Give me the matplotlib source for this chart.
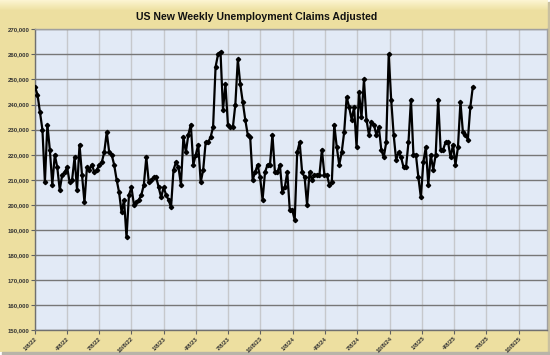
import numpy as np
import pandas as pd
import matplotlib
matplotlib.use("Agg")
import matplotlib.pyplot as plt
import matplotlib.dates as mdates
from matplotlib.patches import FancyBboxPatch
from matplotlib.ticker import FuncFormatter

# ---- data (thousands of claims, weekly from 1/8/22) ----
start_date = "2022-01-08"
claims_k = [
    247, 244, 237, 230, 209, 232, 222, 208, 220, 215,
    206, 212, 213, 215, 209, 210, 219, 206, 224, 212,
    201, 215, 214, 216, 213, 214, 216, 217, 221, 229,
    221, 220, 216, 210, 205, 197, 202, 187, 204, 207,
    200, 201, 202, 204, 208, 219, 209, 210, 211, 211,
    207, 203, 207, 204, 202, 199, 214, 217, 215, 208,
    227, 221, 228, 232, 216, 220, 224, 209, 214, 225,
    225, 227, 231, 255, 260, 261, 238, 248, 232, 231,
    231, 240, 258, 248, 241, 234, 228, 227, 210, 213,
    216, 211, 202, 213, 216, 216, 228, 213, 213, 216,
    205, 207, 213, 198, 198, 194, 221, 225, 213, 211,
    200, 213, 210, 212, 212, 212, 222, 212, 212, 208,
    209, 232, 223, 216, 221, 229, 243, 239, 234, 239,
    223, 245, 235, 250, 234, 228, 233, 232, 228, 231,
    222, 219, 225, 260, 242, 228, 218, 221, 219, 215,
    215, 225, 242, 220, 220, 211, 203, 217, 223, 208,
    220, 214, 220, 242, 222, 222, 225, 225, 219, 224,
    216, 223, 241, 229, 228, 226, 239, 247,
]
tick_dates = ["2022-01-08", "2022-04-08", "2022-07-08", "2022-10-08",
              "2023-01-08", "2023-04-08", "2023-07-08", "2023-10-08",
              "2024-01-08", "2024-04-08", "2024-07-08", "2024-10-08",
              "2025-01-08", "2025-04-08", "2025-07-08", "2025-10-08"]
tick_labels = ["1/8/22", "4/8/22", "7/8/22", "10/8/22",
               "1/8/23", "4/8/23", "7/8/23", "10/8/23",
               "1/8/24", "4/8/24", "7/8/24", "10/8/24",
               "1/8/25", "4/8/25", "7/8/25", "10/8/25"]
y_ticks = [150000, 160000, 170000, 180000, 190000, 200000,
           210000, 220000, 230000, 240000, 250000, 260000, 270000]
title = "US New Weekly Unemployment Claims Adjusted"
x_end = "2025-12-27"

dates = pd.date_range(start_date, periods=len(claims_k), freq="7D")
values = np.array(claims_k) * 1000

fig = plt.figure(figsize=(5.5, 3.55), dpi=100)
fig.patch.set_facecolor("white")

# background with light top band and beige body
bg = fig.add_axes([0, 0, 1, 1], zorder=-10)
bg.set_xlim(0, 550)
bg.set_ylim(355, 0)
bg.axis("off")
grad = np.ones((355, 1, 3))
top = np.array([0.99, 0.96, 0.82])
body = np.array([0.93, 0.878, 0.63])
for r in range(355):
    t = min(r / 10.0, 1.0)
    grad[r, 0] = top * (1 - t) + body * t
bg.imshow(grad, extent=[0, 548, 352, 0], aspect="auto", zorder=0)
# shadow on right / bottom
bg.add_patch(plt.Rectangle((548, 2), 2, 353, color="#c9c0a0", zorder=1))
bg.add_patch(plt.Rectangle((2, 352), 548, 3, color="#b8b4a8", zorder=1))

ax = fig.add_axes([35 / 550, 24.7 / 355, 512 / 550, 301 / 355])
ax.set_facecolor("#e2eaf6")
ax.plot(dates, values, color="black", lw=1.6, marker="D", ms=2.2,
        mec="black", mfc="black", zorder=3)

ax.set_ylim(150000, 270000)
ax.set_yticks(y_ticks)
ax.yaxis.set_major_formatter(FuncFormatter(lambda v, p: f"{int(v):,}"))
ax.set_xlim(pd.Timestamp(start_date), pd.Timestamp(x_end))
ax.set_xticks(pd.to_datetime(tick_dates))
ax.set_xticklabels(tick_labels, rotation=45, ha="right",
                   rotation_mode="anchor")

for lbl in ax.get_yticklabels():
    lbl.set_fontsize(4.3)
    lbl.set_fontweight("bold")
    lbl.set_color("#333333")
    lbl.set_family("Liberation Sans")
for lbl in ax.get_xticklabels():
    lbl.set_fontsize(4.3)
    lbl.set_fontweight("bold")
    lbl.set_color("#333333")
    lbl.set_family("Liberation Sans")

ax.tick_params(axis="y", length=3, width=0.8, color="#606060", pad=1)
ax.tick_params(axis="x", length=3, width=0.8, color="#606060", pad=1)

ax.grid(axis="y", color="#777777", lw=1.0, zorder=1)
ax.grid(axis="x", color="#c6c8cc", lw=1.0, zorder=1)
ax.set_axisbelow(True)
for s in ["left", "bottom"]:
    ax.spines[s].set_color("#707070")
    ax.spines[s].set_linewidth(1.0)
for s in ["top", "right"]:
    ax.spines[s].set_color("#a0a0a0")
    ax.spines[s].set_linewidth(1.0)

fig.text(257 / 550, 1 - 17 / 355, title, ha="center", va="center",
         fontsize=7.6, fontweight="bold", family="Liberation Sans",
         color="#111111")

fig.savefig("out.png", dpi=100)
